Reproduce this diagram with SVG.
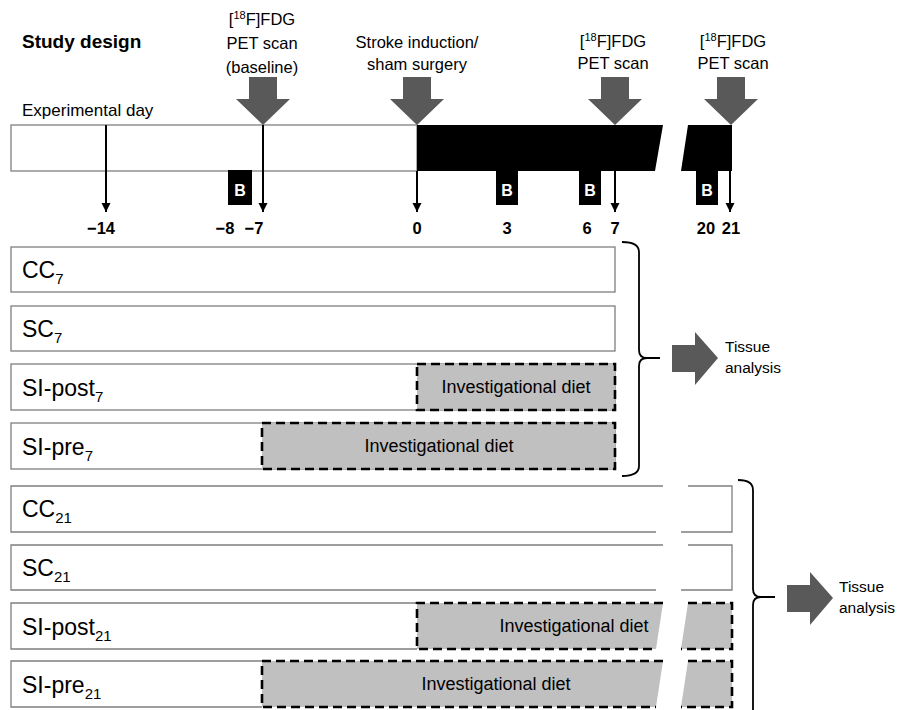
<svg xmlns="http://www.w3.org/2000/svg" width="898" height="710" viewBox="0 0 898 710">
<style>
text{font-family:"Liberation Sans",Arial,sans-serif;fill:#000}
.t16{font-size:16.5px}
.num{font-size:16.5px;font-weight:bold}
.lab{font-size:23px}
.sub{font-size:15px}
.diet{font-size:18px}
.tis{font-size:15.5px}
.row{fill:#fff;stroke:#7f7f7f;stroke-width:1.3}
.rl{fill:none;stroke:#7f7f7f;stroke-width:1.3}
.dash{fill:none;stroke:#000;stroke-width:2.6;stroke-dasharray:9 5}
.gray{fill:#c0c0c0;stroke:none}
.big{fill:#595959}
.tick{stroke:#000;stroke-width:2;fill:none}
.blk{fill:#000}
.btxt{font-size:16px;font-weight:bold;fill:#fff}
.brace{fill:none;stroke:#000;stroke-width:1.8}
</style>
<defs>
<marker id="ah" markerUnits="userSpaceOnUse" markerWidth="10" markerHeight="10" refX="9" refY="5" orient="auto">
<path d="M0,0.5 L9,5 L0,9.5 Z" fill="#000"/>
</marker>
</defs>
<rect width="898" height="710" fill="#fff"/>

<g id="title">
<text x="22" y="48" style="font-size:19px;font-weight:bold">Study design</text>
<text x="22" y="116" style="font-size:17px">Experimental day</text>
</g>

<g id="top-labels" class="t16">
<text x="262" y="25" text-anchor="middle" class="t16">[<tspan font-size="11" dy="-6">18</tspan><tspan dy="6">F]FDG</tspan></text>
<text x="262" y="49" text-anchor="middle" class="t16">PET scan</text>
<text x="262" y="73" text-anchor="middle" class="t16">(baseline)</text>
<text x="417" y="48" text-anchor="middle" class="t16">Stroke induction/</text>
<text x="417" y="70" text-anchor="middle" class="t16">sham surgery</text>
<text x="613" y="47" text-anchor="middle" class="t16">[<tspan font-size="11" dy="-6">18</tspan><tspan dy="6">F]FDG</tspan></text>
<text x="613" y="69" text-anchor="middle" class="t16">PET scan</text>
<text x="733" y="47" text-anchor="middle" class="t16">[<tspan font-size="11" dy="-6">18</tspan><tspan dy="6">F]FDG</tspan></text>
<text x="733" y="69" text-anchor="middle" class="t16">PET scan</text>
</g>

<g id="timeline">
<rect x="11" y="125" width="406" height="46" fill="#fff" stroke="#808080" stroke-width="1.3"/>
<polygon class="blk" points="417,125 663,125 655,171 417,171"/>
<polygon class="blk" points="688,125 732,125 732,171 681,171"/>
<g id="b-boxes">
<rect class="blk" x="228" y="170" width="24" height="35"/>
<text x="240" y="196" text-anchor="middle" class="btxt">B</text>
<rect class="blk" x="496" y="170" width="22" height="35"/>
<text x="507" y="196" text-anchor="middle" class="btxt">B</text>
<rect class="blk" x="579" y="170" width="22" height="35"/>
<text x="590" y="196" text-anchor="middle" class="btxt">B</text>
<rect class="blk" x="696" y="170" width="22" height="35"/>
<text x="707" y="196" text-anchor="middle" class="btxt">B</text>
</g>
<g id="day-numbers" class="num">
<text x="101" y="234" text-anchor="middle" class="num">−14</text>
<text x="225" y="234" text-anchor="middle" class="num">−8</text>
<text x="254" y="234" text-anchor="middle" class="num">−7</text>
<text x="417" y="234" text-anchor="middle" class="num">0</text>
<text x="507" y="234" text-anchor="middle" class="num">3</text>
<text x="587" y="234" text-anchor="middle" class="num">6</text>
<text x="615" y="234" text-anchor="middle" class="num">7</text>
<text x="706" y="234" text-anchor="middle" class="num">20</text>
<text x="731" y="234" text-anchor="middle" class="num">21</text>
</g>
</g>

<g id="connectors">
<polygon class="big" points="249,77 277,77 277,99 290,99 263,125 236,99 249,99"/>
<polygon class="big" points="403,77 431,77 431,99 444,99 417,125 390,99 403,99"/>
<polygon class="big" points="601,77 629,77 629,99 642,99 615,125 588,99 601,99"/>
<polygon class="big" points="717,77 745,77 745,99 758,99 731,125 704,99 717,99"/>
<line class="tick" x1="106" y1="125" x2="106" y2="212" marker-end="url(#ah)"/>
<line class="tick" x1="263" y1="125" x2="263" y2="212" marker-end="url(#ah)"/>
<line class="tick" x1="417" y1="171" x2="417" y2="212" marker-end="url(#ah)"/>
<line class="tick" x1="615" y1="171" x2="615" y2="212" marker-end="url(#ah)"/>
<line class="tick" x1="730" y1="171" x2="730" y2="212" marker-end="url(#ah)"/>
<path class="brace" d="M622,242 Q639,242 639,252 L639,350 Q639,358 647,358 L660,358 M647,358 Q639,358 639,366 L639,466 Q639,476 622,476"/>
<path class="brace" d="M738,480 Q753,480 753,490 L753,589 Q753,597 761,597 L775,597 M761,597 Q753,597 753,605 L753,715"/>
<polygon class="big" fill="#555" points="672,345 695,345 695,332 718,358 695,385 695,372 672,372"/>
<polygon class="big" fill="#555" points="787,585 810,585 810,572 833,598 810,625 810,612 787,612"/>
</g>

<g id="tissue-7">
<text x="725" y="352" class="tis">Tissue</text>
<text x="725" y="373" class="tis">analysis</text>
</g>
<g id="tissue-21">
<text x="839" y="592" class="tis">Tissue</text>
<text x="839" y="613" class="tis">analysis</text>
</g>

<g id="CC7">
<rect class="row" x="11" y="247" width="604" height="45"/>
<text x="22" y="278" class="lab">CC<tspan class="sub" dy="6">7</tspan></text>
</g>
<g id="SC7">
<rect class="row" x="11" y="306" width="604" height="45"/>
<text x="22" y="337" class="lab">SC<tspan class="sub" dy="6">7</tspan></text>
</g>
<g id="SI-post7">
<rect class="row" x="11" y="364" width="604" height="46"/>
<rect class="gray" x="417" y="364" width="198" height="46"/>
<rect class="dash" x="417" y="364" width="198" height="46"/>
<text x="22" y="396" class="lab">SI-post<tspan class="sub" dy="6">7</tspan></text>
<text x="516" y="393" text-anchor="middle" class="diet">Investigational diet</text>
</g>
<g id="SI-pre7">
<rect class="row" x="11" y="423" width="604" height="46"/>
<rect class="gray" x="262" y="423" width="353" height="46"/>
<rect class="dash" x="262" y="423" width="353" height="46"/>
<text x="22" y="455" class="lab">SI-pre<tspan class="sub" dy="6">7</tspan></text>
<text x="439" y="452" text-anchor="middle" class="diet">Investigational diet</text>
</g>

<g id="CC21">
<path class="rl" d="M663,486 L11,486 L11,532 L656,532 M688,486 L732,486 L732,532 L681,532"/>
<text x="22" y="517" class="lab">CC<tspan class="sub" dy="6">21</tspan></text>
</g>
<g id="SC21">
<path class="rl" d="M663,545 L11,545 L11,590 L656,590 M688,545 L732,545 L732,590 L681,590"/>
<text x="22" y="576" class="lab">SC<tspan class="sub" dy="6">21</tspan></text>
</g>
<g id="SI-post21">
<path class="rl" d="M417,603 L11,603 L11,649 L417,649"/>
<polygon class="gray" points="417,603 663,603 656,649 417,649"/>
<polygon class="gray" points="688,603 732,603 732,649 681,649"/>
<path class="dash" d="M663,603 L417,603 L417,649 L656,649 M688,603 L732,603 L732,649 L681,649"/>
<text x="22" y="635" class="lab">SI-post<tspan class="sub" dy="6">21</tspan></text>
<text x="574" y="632" text-anchor="middle" class="diet">Investigational diet</text>
</g>
<g id="SI-pre21">
<path class="rl" d="M262,661 L11,661 L11,707 L262,707"/>
<polygon class="gray" points="262,661 663,661 656,707 262,707"/>
<polygon class="gray" points="688,661 732,661 732,707 681,707"/>
<path class="dash" d="M663,661 L262,661 L262,707 L656,707 M688,661 L732,661 L732,707 L681,707"/>
<text x="22" y="693" class="lab">SI-pre<tspan class="sub" dy="6">21</tspan></text>
<text x="496" y="690" text-anchor="middle" class="diet">Investigational diet</text>
</g>
</svg>
